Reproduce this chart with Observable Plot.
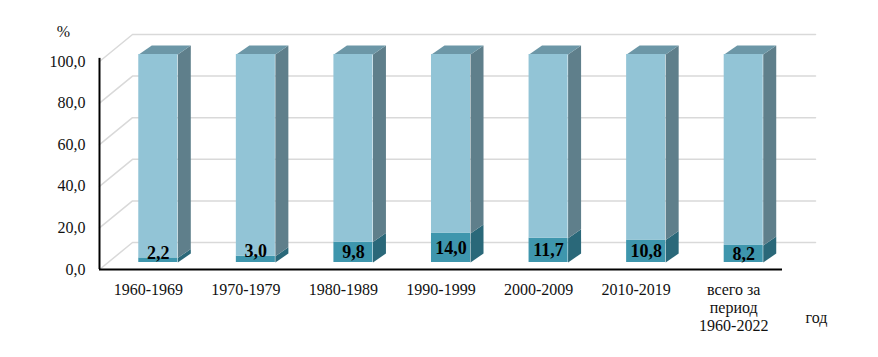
<!DOCTYPE html>
<html><head><meta charset="utf-8">
<script src="https://cdn.jsdelivr.net/npm/d3@7"></script>
<script src="https://cdn.jsdelivr.net/npm/@observablehq/plot@0.6"></script>
<style>body{margin:0;background:#fff;} svg{overflow:visible}</style>
</head><body><div id="chart"></div>
<script>
// ---- data ----
const categories = ["1960-1969","1970-1979","1980-1989","1990-1999","2000-2009","2010-2019","всего за\nпериод\n1960-2022"];
const shares = [2.2, 3.0, 9.8, 14.0, 11.7, 10.8, 8.2];
const total = 100;
const yTicks = [0, 20, 40, 60, 80, 100];
const yLabel = "%";
const xLabel = "год";

const fmt = v => v.toFixed(1).replace(".", ",");

// ---- layout ----
const W = 878, H = 357, mL = 99, mR = 96, mT = 61, mB = 88;
const pxX = (W - mL - mR) / categories.length;
const pxY = (H - mT - mB) / total;
const BW = 0.4;               // bar width (category units)
const SX = 10, SY = -7;       // bar shift into depth (px)
const DX = 13 / pxX, DY = 9 / pxY;     // bar depth
const WX = 33 / pxX, WY = 27 / pxY;    // wall depth
const xMin = -0.5, xMax = categories.length - 0.5;
const gridEnd = xMin + (815 - mL) / pxX;

const bars = categories.map((c, i) => ({i, c, v: shares[i]}));

const frontLow = bars.map(d => ({x1: d.i - BW/2, x2: d.i + BW/2, y1: 0, y2: d.v}));
const frontHigh = bars.map(d => ({x1: d.i - BW/2, x2: d.i + BW/2, y1: d.v, y2: total}));
const side = (d, a, b) => {
  const r = d.i + BW/2;
  return [{x: r, y: a}, {x: r + DX, y: a + DY}, {x: r + DX, y: b + DY}, {x: r, y: b}].map(p => ({...p, id: d.i}));
};
const sideLow = bars.flatMap(d => side(d, 0, d.v));
const sideHigh = bars.flatMap(d => side(d, d.v, total));
const tops = bars.flatMap(d => {
  const l = d.i - BW/2, r = d.i + BW/2;
  return [{x: l, y: total}, {x: r, y: total}, {x: r + DX, y: total + DY}, {x: l + DX, y: total + DY}].map(p => ({...p, id: d.i}));
});
const grid = yTicks.flatMap(t => [
  {x: xMin, y: t, t}, {x: xMin + WX, y: t + WY, t}, {x: gridEnd, y: t + WY, t}
]);
const labels = bars.map(d => ({i: d.i, y: d.v < 5 ? d.v + 2.2 : d.v / 2, text: fmt(d.v)}));

const serif = "'Liberation Serif', 'Times New Roman', serif";

const chart = Plot.plot({
  width: W, height: H,
  marginLeft: mL, marginRight: mR, marginTop: mT, marginBottom: mB,
  style: {fontFamily: serif, fontSize: "16px", background: "#fff", color: "#111"},
  x: {domain: [xMin, xMax], axis: null},
  y: {domain: [0, total], axis: null},
  marks: [
    Plot.line(grid, {x: "x", y: "y", z: "t", stroke: "#d9d9d9", strokeWidth: 1.5}),
    Plot.axisY(yTicks, {tickSize: 0, tickPadding: 14, tickFormat: fmt, label: null, fontSize: 16}),
    Plot.ruleX([xMin], {y1: 0, y2: total + 1.5, stroke: "#000", strokeWidth: 2}),
    Plot.ruleY([0], {x1: xMin, x2: xMax, stroke: "#000", strokeWidth: 2}),
    Plot.line(sideLow, {x: "x", y: "y", z: "id", fill: "#2a6879", stroke: null, dx: SX, dy: SY}),
    Plot.line(sideHigh, {x: "x", y: "y", z: "id", fill: "#5f7f8b", stroke: null, dx: SX, dy: SY}),
    Plot.line(tops, {x: "x", y: "y", z: "id", fill: "#6c97a7", stroke: null, dx: SX, dy: SY}),
    Plot.rect(frontLow, {x1: "x1", x2: "x2", y1: "y1", y2: "y2", fill: "#3e96ad", dx: SX, dy: SY}),
    Plot.rect(frontHigh, {x1: "x1", x2: "x2", y1: "y1", y2: "y2", fill: "#92c4d6", dx: SX, dy: SY}),
    Plot.text(labels, {x: "i", y: "y", text: "text", dx: SX, dy: SY, fontSize: 18, fontWeight: "bold", fill: "#000"}),
    Plot.text(bars, {x: "i", y: 0, text: "c", dy: 13, lineAnchor: "top", lineHeight: 1.13, fontSize: 16, fill: "#111"}),
    Plot.text([yLabel], {frameAnchor: "top-left", dx: -36, dy: -30, textAnchor: "middle", lineAnchor: "middle", fontSize: 16}),
    Plot.text([xLabel], {frameAnchor: "bottom-right", dx: 34, dy: 48, textAnchor: "middle", lineAnchor: "middle", fontSize: 16})
  ]
});
document.getElementById("chart").append(chart);
</script>
</body></html>
